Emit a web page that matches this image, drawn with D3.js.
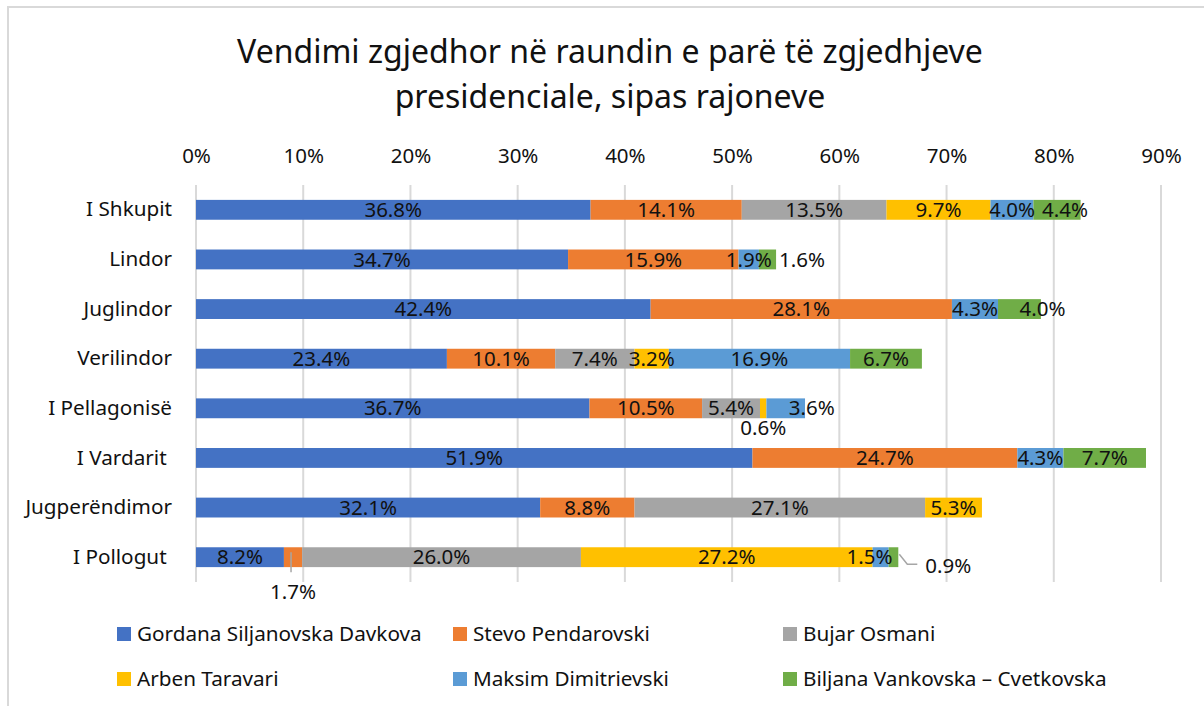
<!DOCTYPE html>
<html>
<head>
<meta charset="utf-8">
<script src="https://cdn.jsdelivr.net/npm/d3@7"></script>
<style>
  body { margin: 0; background: #fff; }
  svg { display: block; font-family: "Noto Sans", "Open Sans", sans-serif; }
  .cat text { white-space: pre; }
</style>
</head>
<body>
<div id="chart"></div>
<script>
const regions = ["I Shkupit", "Lindor", "Juglindor", "Verilindor", "I Pellagonisë", "I Vardarit ", "Jugperëndimor", "I Pollogut "];
const candidates = ["Gordana Siljanovska Davkova", "Stevo Pendarovski", "Bujar Osmani", "Arben Taravari", "Maksim Dimitrievski", "Biljana Vankovska – Cvetkovska"];
const colors = ["#4472C4", "#ED7D31", "#A5A5A5", "#FFC000", "#5B9BD5", "#70AD47"];

// percent of votes per region
const davkova      = [36.8, 34.7, 42.4, 23.4, 36.7, 51.9, 32.1, 8.2];
const pendarovski  = [14.1, 15.9, 28.1, 10.1, 10.5, 24.7, 8.8, 1.7];
const osmani       = [13.5, 0, 0, 7.4, 5.4, 0, 27.1, 26.0];
const taravari     = [9.7, 0, 0, 3.2, 0.6, 0, 5.3, 27.2];
const dimitrievski = [4.0, 1.9, 4.3, 16.9, 3.6, 4.3, 0, 1.5];
const vankovska    = [4.4, 1.6, 4.0, 6.7, 0, 7.7, 0, 0.9];

const tickValues = [0, 0.1, 0.2, 0.3, 0.4, 0.5, 0.6, 0.7, 0.8, 0.9];

const series = [davkova, pendarovski, osmani, taravari, dimitrievski, vankovska];
const rows = regions.map((r, i) => {
    const o = { region: r };
    candidates.forEach((c, j) => { o[c] = series[j][i] / 100; });
    return o;
});

// hand placed labels (like the excel original)
const labelTweaks = {
    "I Shkupit|5": { dx: 8 },
    "Lindor|5": { outside: 3 },
    "Juglindor|5": { dx: 23 },
    "I Pellagonisë|3": { dy: 20 },
    "I Pellagonisë|4": { dx: 26 },
    "I Pollogut |1": { dy: 35, leader: "down" },
    "I Pollogut |4": { dx: -11 },
    "I Pollogut |5": { outside: 27, dy: 9, leader: "elbow" }
};

const W = 1204, H = 706;
const svg = d3.select("#chart").append("svg")
    .attr("width", W)
    .attr("height", H);

svg.append("rect")
    .attr("x", 8).attr("y", 7)
    .attr("width", W + 20).attr("height", H + 20)
    .attr("fill", "#fff")
    .attr("stroke", "#d9d9d9")
    .attr("stroke-width", 2);

const title = svg.append("text")
    .attr("text-anchor", "middle")
    .attr("font-size", 32)
    .attr("fill", "#111");
title.append("tspan").attr("x", 610).attr("y", 63).text("Vendimi zgjedhor në raundin e parë të zgjedhjeve");
title.append("tspan").attr("x", 610).attr("y", 108).text("presidenciale, sipas rajoneve");

const plotTop = 185, plotBottom = 582;
const x = d3.scaleLinear().domain([0, 0.9]).range([196, 1161]);
const y = d3.scaleBand().domain(regions).range([plotTop, plotBottom]).paddingInner(0.6).paddingOuter(0.3);

// gridlines
svg.append("g")
    .selectAll("line")
    .data(tickValues)
    .join("line")
    .attr("x1", d => x(d)).attr("x2", d => x(d))
    .attr("y1", plotTop).attr("y2", plotBottom)
    .attr("stroke", "#d9d9d9")
    .attr("stroke-width", 2);

const xAxis = svg.append("g")
    .attr("transform", `translate(0,${plotTop})`)
    .call(d3.axisTop(x).tickValues(tickValues).tickFormat(d3.format(".0%")).tickSize(0).tickPadding(22));
xAxis.select(".domain").remove();
xAxis.selectAll("text")
    .attr("font-size", 20.5)
    .attr("font-family", "Noto Sans, sans-serif")
    .attr("fill", "#111");

const yAxis = svg.append("g")
    .attr("class", "cat")
    .attr("transform", "translate(196,0)")
    .call(d3.axisLeft(y).tickSize(0).tickPadding(24));
yAxis.select(".domain").remove();
yAxis.selectAll("text")
    .attr("font-size", 20.7)
    .attr("font-family", "Noto Sans, sans-serif")
    .attr("fill", "#111");

const stacked = d3.stack().keys(candidates)(rows);

const layers = svg.append("g")
    .selectAll("g")
    .data(stacked)
    .join("g")
    .attr("fill", (d, i) => colors[i]);

layers.selectAll("rect")
    .data(d => d)
    .join("rect")
    .attr("x", d => x(d[0]))
    .attr("y", d => y(d.data.region))
    .attr("width", d => x(d[1]) - x(d[0]))
    .attr("height", y.bandwidth());

// data labels
const labelG = svg.append("g")
    .attr("font-size", 20.5)
    .attr("fill", "#111");

stacked.forEach((layer, j) => {
    layer.forEach(d => {
        const v = d[1] - d[0];
        if (v <= 0) return;
        const key = d.data.region + "|" + j;
        const t = labelTweaks[key] || {};
        const cy = y(d.data.region) + y.bandwidth() / 2;
        let lx = (x(d[0]) + x(d[1])) / 2 + (t.dx || 0);
        let anchor = "middle";
        if (t.outside !== undefined) {
            lx = x(d[1]) + t.outside;
            anchor = "start";
        }
        const ly = cy + (t.dy || 0);

        if (t.leader === "down") {
            const lxLine = (x(d[0]) + x(d[1])) / 2 - 2;
            labelG.append("line")
                .attr("x1", lxLine).attr("x2", lxLine)
                .attr("y1", cy - 5).attr("y2", ly - 20)
                .attr("stroke", "#a6a6a6").attr("stroke-width", 1.5);
        } else if (t.leader === "elbow") {
            const x0 = x(d[1]) + 1;
            labelG.append("polyline")
                .attr("points", `${x0},${cy - 3} ${x0 + 8},${ly - 2} ${lx - 8},${ly - 2}`)
                .attr("fill", "none")
                .attr("stroke", "#a6a6a6").attr("stroke-width", 1.5);
        }

        labelG.append("text")
            .attr("x", lx)
            .attr("y", ly)
            .attr("dy", "0.35em")
            .attr("text-anchor", anchor)
            .text(d3.format(".1%")(v));
    });
});

// legend
const legendPos = [[117, 634], [453, 634], [783, 634], [117, 679], [453, 679], [783, 679]];
const legend = svg.append("g")
    .selectAll("g")
    .data(candidates)
    .join("g")
    .attr("transform", (d, i) => `translate(${legendPos[i][0]},${legendPos[i][1]})`);

legend.append("rect")
    .attr("x", 0).attr("y", -7)
    .attr("width", 14).attr("height", 14)
    .attr("fill", (d, i) => colors[i]);

legend.append("text")
    .attr("x", 20)
    .attr("dy", "0.35em")
    .attr("font-size", 20.7)
    .attr("fill", "#111")
    .text(d => d);
</script>
</body>
</html>
